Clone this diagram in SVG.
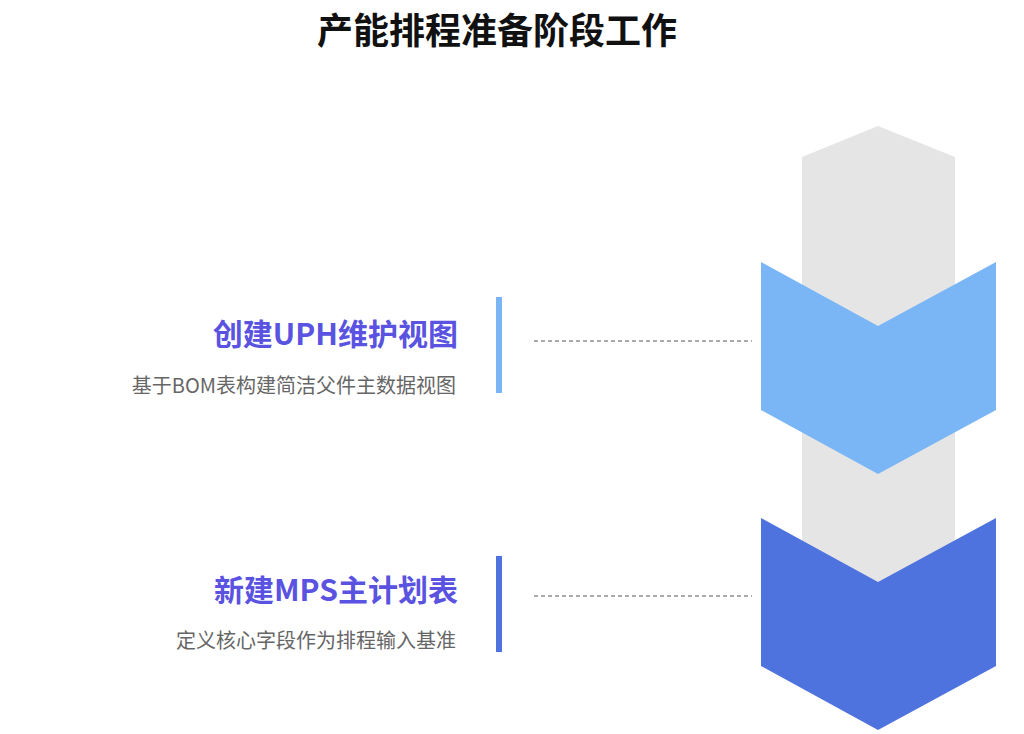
<svg xmlns="http://www.w3.org/2000/svg" width="1024" height="734" viewBox="0 0 1024 734">
<style>
text{font-family:"Noto Sans CJK SC","Noto Sans",sans-serif}
.t{font-size:30px;font-weight:bold;fill:#5a52e0;text-anchor:end}
.s{font-size:20px;fill:#666;text-anchor:end}
.d{stroke:#555;stroke-width:1;stroke-dasharray:4 3;fill:none}
</style>
<rect width="1024" height="734" fill="#fff"/>
<text x="497" y="44" font-size="36" font-weight="bold" text-anchor="middle" fill="#111" style="font-family:'Noto Sans CJK SC',sans-serif">产能排程准备阶段工作</text>
<g id="column"><polygon points="802,157 878,126 955,157 955,600 802,600" fill="#e5e5e5"/></g>
<g id="step1">
<polygon points="761,262 878,326 996,262 996,410 878,474 761,410" fill="#7ab6f5"/>
<rect x="496" y="297" width="6" height="96" fill="#7ab6f5"/>
<text class="t" x="458" y="345">创建UPH维护视图</text>
<text class="s" x="456" y="393">基于BOM表构建简洁父件主数据视图</text>
</g>
<g id="step2">
<polygon points="761,518 878,582 996,518 996,666 878,730 761,666" fill="#4f73de"/>
<rect x="496" y="556" width="6" height="96" fill="#4f73de"/>
<text class="t" x="458" y="601">新建MPS主计划表</text>
<text class="s" x="456" y="648">定义核心字段作为排程输入基准</text>
</g>
<g id="connectors">
<line class="d" x1="534" y1="341" x2="752" y2="341"/>
<line class="d" x1="534" y1="596" x2="752" y2="596"/>
</g>
</svg>
